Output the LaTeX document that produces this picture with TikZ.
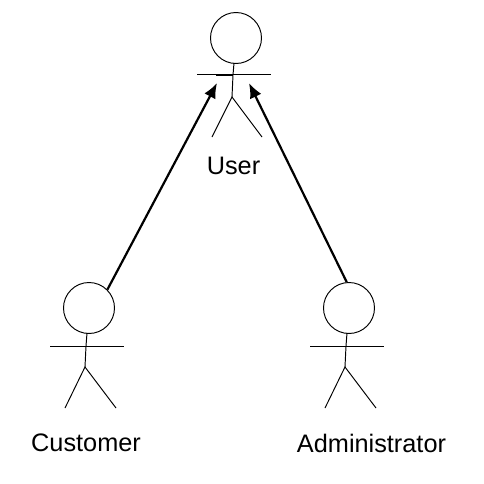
\documentclass[tikz,border=0pt]{standalone}
\usepackage{fontspec}
\setmainfont{Liberation Sans}
\usetikzlibrary{arrows.meta}
\tikzset{
	head/.style={draw, circle, minimum size=1.02cm, inner sep=0pt, line width=0.55pt},
	limb/.style={line width=0.55pt},
	label/.style={inner sep=0pt, font=\fontsize{14.4}{17}\selectfont},
	inherit/.style={line width=1.25pt, -{Latex[length=0.3cm, width=0.25cm]}}
}
\begin{document}
\begin{tikzpicture}[x=0.02cm, y=-0.02cm]
	\useasboundingbox (0,0) rectangle (484,484);
	% User
	\node[head] (userhead) at (236,38) {};
	\draw[limb] (234,63) -- (233,75) -- (232,97);
	\draw[limb] (197,74.5) -- (271,74.5);
	\draw[limb] (216,75.3) -- (233,75.3);
	\draw[limb] (212,137) -- (232,97) -- (262,137);
	\node[label] (userlabel) at (233.5,166) {User};
	\coordinate (usertipleft) at (217,83);
	\coordinate (usertipright) at (249,83);
	% Customer
	\node[head] (customerhead) at (89,308) {};
	\draw[limb] (87,333) -- (86,346) -- (85,367);
	\draw[limb] (50,346) -- (124,346);
	\draw[limb] (69,346.8) -- (86,346.8);
	\draw[limb] (65,408) -- (85,367) -- (116,408);
	\node[label] (customerlabel) at (86,443) {Customer};
	% Administrator
	\node[head] (adminhead) at (349,308) {};
	\draw[limb] (347,333) -- (346,346) -- (345,367);
	\draw[limb] (310,346) -- (384,346);
	\draw[limb] (329,346.8) -- (346,346.8);
	\draw[limb] (325,408) -- (345,367) -- (376,408);
	\node[label] (adminlabel) at (371.5,443) {Administrator};
	% Generalisation
	\draw[inherit] (customerhead.45) -- (usertipleft);
	\draw[inherit] (adminhead.95) -- (usertipright);
\end{tikzpicture}
\end{document}
